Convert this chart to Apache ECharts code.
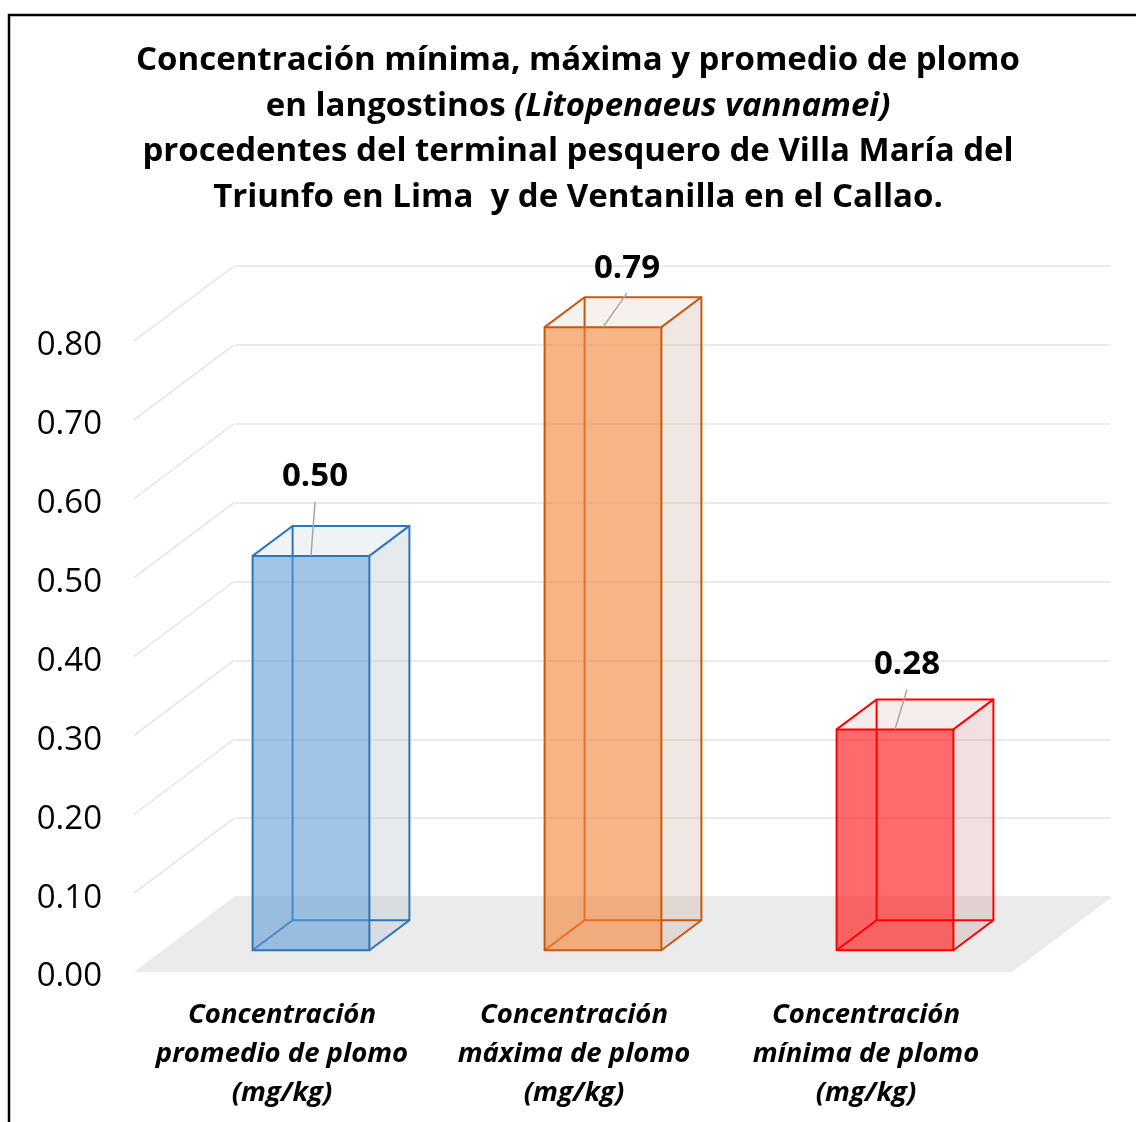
<!DOCTYPE html>
<html>
<head>
<meta charset="utf-8">
<script src="https://cdn.jsdelivr.net/npm/echarts@6/dist/echarts.min.js"></script>
<style>
  html, body { margin: 0; padding: 0; background: #fff; }
  #chart { width: 1136px; height: 1122px; }
</style>
</head>
<body>
<div id="chart"></div>
<script>
// data
var categories = [
    'Concentración\npromedio de plomo\n(mg/kg)',
    'Concentración\nmáxima de plomo\n(mg/kg)',
    'Concentración\nmínima de plomo\n(mg/kg)'
];
var values = [0.50, 0.79, 0.28];
var yTicks = [0, 0.1, 0.2, 0.3, 0.4, 0.5, 0.6, 0.7, 0.8];
var titleLines = [
    'Concentración mínima, máxima y promedio de plomo',
    '{b|en langostinos }{i|(Litopenaeus vannamei)}',
    'procedentes del terminal pesquero de Villa María del',
    'Triunfo en Lima  y de Ventanilla en el Callao.'
];

// look
var FONT = '"Open Sans", "Noto Sans", sans-serif';
var DEPTH = [100, -75];      // floor depth offset (px)
var FRONT = 0.29, BACK = 0.69;
var BAR_RATIO = 0.4;
var palette = [
    {front: 'rgba(91,155,213,0.58)', stroke: '#2e75b6', side: 'rgba(180,195,210,0.35)', top: 'rgba(180,195,210,0.2)'},
    {front: 'rgba(244,130,50,0.6)', stroke: '#c55a11', side: 'rgba(200,160,140,0.25)', top: 'rgba(200,160,140,0.15)'},
    {front: 'rgba(255,0,0,0.58)', stroke: '#ff0000', side: 'rgba(200,140,140,0.27)', top: 'rgba(200,140,140,0.17)'}
];
var labelNudge = [[4, -79], [24, -59], [12, -65]];

var myChart = echarts.init(document.getElementById('chart'));

function renderWall(params, api) {
    var cs = params.coordSys;
    var v = api.value(1);
    var y = api.coord([0, v])[1];
    if (v === 0) {
        return {
            type: 'polygon',
            shape: {points: [[cs.x - 2, y], [cs.x + cs.width, y],
                [cs.x + cs.width + DEPTH[0], y + DEPTH[1]], [cs.x + DEPTH[0] - 2, y + DEPTH[1]]]},
            style: {fill: '#ebebeb'}
        };
    }
    return {
        type: 'line',
        shape: {x1: cs.x - 2, y1: y, x2: cs.x + DEPTH[0] - 2, y2: y + DEPTH[1]},
        style: {stroke: '#e4e4e4', lineWidth: 1.5}
    };
}

function renderBox(params, api) {
    var i = api.value(0);
    var v = api.value(1);
    var base = api.coord([i, 0]);
    var top = api.coord([i, v]);
    var bw = api.size([1, 0])[0] * BAR_RATIO;
    var c = palette[i];
    var fx = DEPTH[0] * FRONT, fy = DEPTH[1] * FRONT;
    var ddx = DEPTH[0] * (BACK - FRONT), ddy = DEPTH[1] * (BACK - FRONT);
    var xl = base[0] - bw / 2 + fx, xr = base[0] + bw / 2 + fx;
    var yb = base[1] + fy, yt = top[1] + fy;
    var edge = {stroke: c.stroke, lineWidth: 2, fill: null};
    var cx = (xl + xr) / 2;
    var nudge = labelNudge[i];
    return {
        type: 'group',
        children: [
            {type: 'polygon', shape: {points: [[xr, yb], [xr + ddx, yb + ddy], [xr + ddx, yt + ddy], [xr, yt]]},
                style: {fill: c.side}},
            {type: 'polygon', shape: {points: [[xl, yt], [xr, yt], [xr + ddx, yt + ddy], [xl + ddx, yt + ddy]]},
                style: {fill: c.top}},
            // hidden edges, seen through the front face
            {type: 'polyline', shape: {points: [[xl, yb], [xl + ddx, yb + ddy], [xr + ddx, yb + ddy]]}, style: edge},
            {type: 'line', shape: {x1: xl + ddx, y1: yb + ddy, x2: xl + ddx, y2: yt + ddy}, style: edge},
            {type: 'rect', shape: {x: xl, y: yt, width: bw, height: yb - yt},
                style: {fill: c.front, stroke: c.stroke, lineWidth: 2}},
            {type: 'polyline', shape: {points: [[xl, yt], [xl + ddx, yt + ddy], [xr + ddx, yt + ddy], [xr + ddx, yb + ddy], [xr, yb]]},
                style: edge},
            {type: 'line', shape: {x1: xr, y1: yt, x2: xr + ddx, y2: yt + ddy}, style: edge},
            // data label with leader line
            {type: 'line', shape: {x1: cx + nudge[0], y1: yt + nudge[1] + 25, x2: cx, y2: yt},
                style: {stroke: '#a6a6a6', lineWidth: 1.5}},
            {type: 'text', x: cx + nudge[0], y: yt + nudge[1],
                style: {text: v.toFixed(2), font: 'bold 33px ' + FONT, fill: '#000',
                    align: 'center', verticalAlign: 'middle'}}
        ]
    };
}

myChart.setOption({
    animation: false,
    graphic: [
        {type: 'polyline', shape: {points: [[9, 1122], [9, 15], [1136, 15]]},
            style: {stroke: '#000', lineWidth: 2.5, fill: null}}
    ].concat(titleLines.map(function (t, k) {
        return {
            type: 'text', x: 578, y: 61 + k * 45.5,
            style: {
                text: t, font: 'bold 33px ' + FONT, fill: '#000',
                align: 'center', verticalAlign: 'middle',
                rich: {
                    b: {font: 'bold 33px ' + FONT, fill: '#000'},
                    i: {font: 'italic bold 33px ' + FONT, fill: '#000'}
                }
            }
        };
    })),
    grid: [
        {left: 136, right: 124, top: 341, bottom: 150},
        {left: 235, right: 26, top: 266, bottom: 225}
    ],
    xAxis: [
        {
            type: 'category', gridIndex: 0, data: categories,
            axisLine: {show: false}, axisTick: {show: false},
            axisLabel: {
                margin: 24, color: '#000', fontFamily: FONT, fontSize: 27.5,
                fontWeight: 'bold', fontStyle: 'italic', lineHeight: 39, interval: 0
            }
        },
        {type: 'category', gridIndex: 1, data: categories, show: false}
    ],
    yAxis: [
        {
            type: 'value', gridIndex: 0, min: 0, max: 0.8, interval: 0.1,
            axisLine: {show: false}, axisTick: {show: false}, splitLine: {show: false},
            axisLabel: {
                margin: 34, color: '#000', fontFamily: FONT, fontSize: 33,
                formatter: function (v) { return '{n|' + v.toFixed(2) + '}'; },
                rich: {
                    n: {color: '#000', fontFamily: FONT, fontSize: 33, padding: [10, 0, 0, 0]}
                }
            }
        },
        {
            type: 'value', gridIndex: 1, min: 0, max: 0.8, interval: 0.1,
            axisLine: {show: false}, axisTick: {show: false}, axisLabel: {show: false},
            splitLine: {show: true, lineStyle: {color: '#e4e4e4', width: 1.5}}
        }
    ],
    series: [
        {
            type: 'custom', name: 'walls', xAxisIndex: 0, yAxisIndex: 0, z: 1,
            renderItem: renderWall, silent: true,
            data: yTicks.map(function (v) { return [0, v]; })
        },
        {
            type: 'custom', name: 'plomo', xAxisIndex: 0, yAxisIndex: 0, z: 3,
            renderItem: renderBox,
            data: values.map(function (v, i) { return [i, v]; })
        }
    ]
});
</script>
</body>
</html>
